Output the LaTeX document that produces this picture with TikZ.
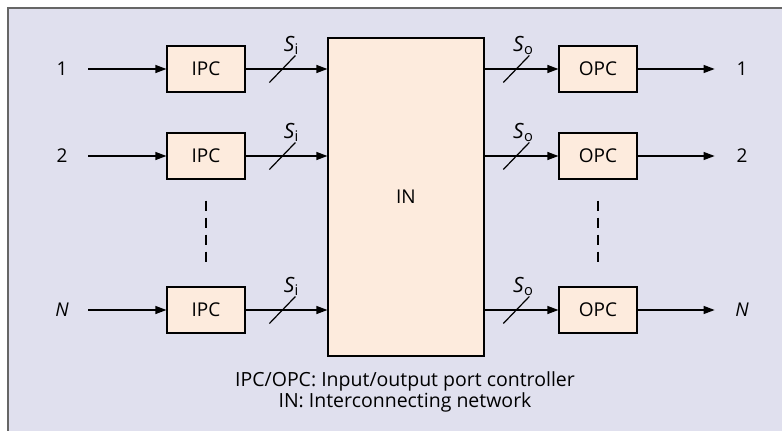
\documentclass[tikz,border=0pt]{standalone}
\usepackage{fontspec}
\setmainfont{Open Sans}
\usepackage{tikz}
\usetikzlibrary{calc,positioning,arrows,arrows.meta}

\definecolor{bgpanel}{RGB}{224,224,238}
\definecolor{boxfill}{RGB}{253,235,221}

\begin{document}
\begin{tikzpicture}[x=1pt, y=-1pt, >={Triangle[length=11pt,width=8pt]},
                    font=\fontsize{19}{22}\selectfont]
  \useasboundingbox (0,0) rectangle (782,431);

  % ---- Panel ---------------------------------------------------
  \draw[gray!80!black, line width=1.6pt, fill=bgpanel]
    (8,8) rectangle (784,433);

  % ---- Styles --------------------------------------------------
  \tikzstyle{ctrl}=[draw, line width=1.2pt, fill=boxfill, minimum width=78pt,
                    minimum height=46pt, inner sep=0pt]
  \tikzstyle{port}=[inner sep=0pt]
  \tikzstyle{link}=[line width=1.2pt, ->]
  \tikzstyle{bus}=[line width=1.2pt]
  \tikzstyle{width}=[inner sep=0pt, anchor=south, font=\fontsize{21}{22}\selectfont]

  % ---- Interconnecting network --------------------------------
  \node[draw, line width=1.2pt, fill=boxfill, minimum width=156pt,
        minimum height=318pt, inner sep=0pt] (in) at (406,197) {IN};

  % ---- Controllers --------------------------------------------
  \node[ctrl] (ipcA) at (206, 69)  {IPC};
  \node[ctrl] (ipcB) at (206,156)  {IPC};
  \node[ctrl] (ipcN) at (206,310)  {IPC};
  \node[ctrl] (opcA) at (598, 69)  {OPC};
  \node[ctrl] (opcB) at (598,156)  {OPC};
  \node[ctrl] (opcN) at (598,310)  {OPC};

  % ---- Port labels --------------------------------------------
  \node[port] (inA)  at (62, 69)  {1};
  \node[port] (inB)  at (62,156)  {2};
  \node[port] (inN)  at (62,310)  {\textit{N}};
  \node[port] (outA) at (742, 69) {1};
  \node[port] (outB) at (742,156) {2};
  \node[port] (outN) at (742,310) {\textit{N}};

  % ---- Input / output links -----------------------------------
  \draw[link] (inA) ++(26,0) -- (ipcA.west);
  \draw[link] (inB) ++(26,0) -- (ipcB.west);
  \draw[link] (inN) ++(26,0) -- (ipcN.west);
  \draw[link] (opcA.east) -- ++(77,0);
  \draw[link] (opcB.east) -- ++(77,0);
  \draw[link] (opcN.east) -- ++(77,0);

  % ---- Buses into and out of IN -------------------------------
  \draw[link] (ipcA.east) -- (ipcA.east -| in.west) coordinate[pos=0.45] (siA);
  \draw[link] (ipcB.east) -- (ipcB.east -| in.west) coordinate[pos=0.45] (siB);
  \draw[link] (ipcN.east) -- (ipcN.east -| in.west) coordinate[pos=0.45] (siN);
  \draw[link] (opcA.west -| in.east) -- (opcA.west) coordinate[pos=0.43] (soA);
  \draw[link] (opcB.west -| in.east) -- (opcB.west) coordinate[pos=0.43] (soB);
  \draw[link] (opcN.west -| in.east) -- (opcN.west) coordinate[pos=0.43] (soN);

  % slashes and widths
  \foreach \s in {siA,siB,siN}
    \draw[bus] ($(\s)+(-13,13.5)$) -- ($(\s)+(13,-13.5)$)
      node[width, xshift=-4pt] {\textit{S}\textsubscript{i}};
  \foreach \s in {soA,soB,soN}
    \draw[bus] ($(\s)+(-13,13.5)$) -- ($(\s)+(13,-13.5)$)
      node[width, xshift=-6pt] {\textit{S}\textsubscript{o}};

  % ---- Ellipsis between rows ----------------------------------
  \draw[line width=1.2pt, dash pattern=on 10pt off 7pt, shorten <=21pt, shorten >=21pt]
    (ipcB.south) -- (ipcN.north);
  \draw[line width=1.2pt, dash pattern=on 10pt off 7pt, shorten <=21pt, shorten >=21pt]
    (opcB.south) -- (opcN.north);

  % ---- Legend --------------------------------------------------
  \node[align=center, font=\fontsize{19.5}{18}\selectfont] (legend) at (405,392)
    {IPC/OPC: Input/output port controller\\IN: Interconnecting network};

\end{tikzpicture}
\end{document}
